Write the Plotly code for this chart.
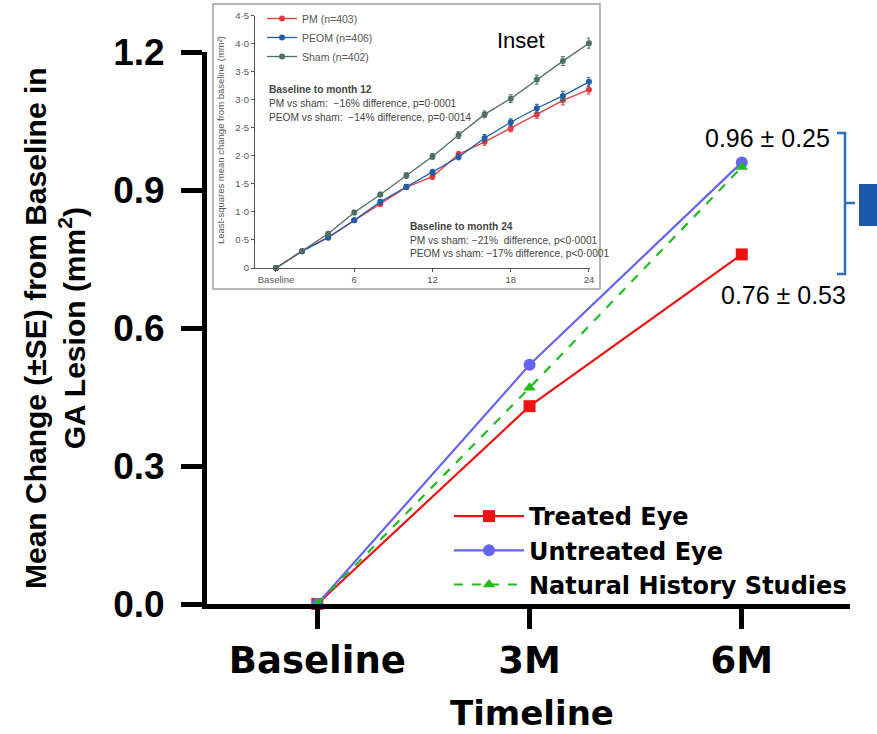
import plotly.graph_objects as go

# ---------------- data ----------------
timepoints = ["Baseline", "3M", "6M"]
treated_eye = [0.0, 0.43, 0.76]
untreated_eye = [0.0, 0.52, 0.96]
natural_history = [0.0, 0.47, 0.95]
main_yticks = [0.0, 0.3, 0.6, 0.9, 1.2]
main_yticktext = ["0.0", "0.3", "0.6", "0.9", "1.2"]

inset_months = [0, 2, 4, 6, 8, 10, 12, 14, 16, 18, 20, 22, 24]
inset_pm = [0, 0.30, 0.55, 0.85, 1.14, 1.44, 1.63, 2.03, 2.25, 2.49, 2.74, 2.99, 3.18]
inset_peom = [0, 0.30, 0.54, 0.85, 1.18, 1.45, 1.71, 1.98, 2.32, 2.60, 2.85, 3.07, 3.32]
inset_sham = [0, 0.30, 0.61, 0.99, 1.31, 1.65, 1.99, 2.37, 2.74, 3.02, 3.36, 3.69, 4.01]
inset_pm_se = [0, 0.02, 0.03, 0.03, 0.04, 0.04, 0.05, 0.05, 0.06, 0.06, 0.07, 0.08, 0.08]
inset_peom_se = [0, 0.02, 0.03, 0.03, 0.04, 0.04, 0.05, 0.05, 0.06, 0.06, 0.07, 0.08, 0.08]
inset_sham_se = [0, 0.02, 0.03, 0.04, 0.04, 0.05, 0.05, 0.06, 0.06, 0.07, 0.08, 0.08, 0.09]
inset_xticks = [0, 6, 12, 18, 24]
inset_xticktext = ["Baseline", "6", "12", "18", "24"]
inset_yticks = [0, 0.5, 1.0, 1.5, 2.0, 2.5, 3.0, 3.5, 4.0, 4.5]
inset_yticktext = ["0", "0·5", "1·0", "1·5", "2·0", "2·5", "3·0", "3·5", "4·0", "4·5"]

# ---------------- layout helpers ----------------
W, H = 877, 734
ML, MR, MT, MB = 207, 27, 4, 130
PW, PH = W - ML - MR, H - MT - MB


def pxx(x):
    return (x - ML) / PW


def pxy(y):
    return (H - MB - y) / PH


BIG = "DejaVu Sans"
ARIAL = "Liberation Sans, Arial, sans-serif"
GRAY = "#555555"

fig = go.Figure()

# main traces
fig.add_trace(go.Scatter(
    x=timepoints, y=treated_eye, name="Treated Eye", mode="lines+markers",
    line=dict(color="#ee1111", width=2.2),
    marker=dict(symbol="square", size=12, color="#ee1111"),
    cliponaxis=False, legend="legend"))
fig.add_trace(go.Scatter(
    x=timepoints, y=untreated_eye, name="Untreated Eye", mode="lines+markers",
    line=dict(color="#6464f0", width=2.2),
    marker=dict(symbol="circle", size=12, color="#6464f0"),
    cliponaxis=False, legend="legend"))
fig.add_trace(go.Scatter(
    x=timepoints, y=natural_history, name="Natural History Studies", mode="lines+markers",
    line=dict(color="#22bb22", width=2.2, dash="dash"),
    marker=dict(symbol="triangle-up", size=11, color="#22bb22"),
    cliponaxis=False, legend="legend"))

# inset traces
for name, ys, se, col in [
    ("PM (n=403)", inset_pm, inset_pm_se, "#e03c3c"),
    ("PEOM (n=406)", inset_peom, inset_peom_se, "#1f5fa8"),
    ("Sham (n=402)", inset_sham, inset_sham_se, "#4e6e68"),
]:
    fig.add_trace(go.Scatter(
        x=inset_months, y=ys, name=name, mode="lines+markers",
        xaxis="x2", yaxis="y2", legend="legend2",
        line=dict(color=col, width=1.3),
        marker=dict(size=6, color=col),
        error_y=dict(type="data", array=se, visible=True, color=col, thickness=1, width=2),
        cliponaxis=False))

fig.update_layout(
    width=W, height=H,
    margin=dict(l=ML, r=MR, t=MT, b=MB, autoexpand=False),
    paper_bgcolor="white", plot_bgcolor="white",
    xaxis=dict(
        domain=[0, 1], range=[-0.52, 2.51], type="category",
        categoryorder="array", categoryarray=timepoints,
        showline=True, linecolor="black", linewidth=5,
        ticks="outside", ticklen=20, tickwidth=5, tickcolor="black",
        tickfont=dict(family=BIG, size=37, color="black", weight="bold"),
        showgrid=False, zeroline=False, anchor="y", automargin=False,
    ),
    yaxis=dict(
        domain=[0, pxy(52)], range=[0, 1.2],
        tickvals=main_yticks, ticktext=main_yticktext,
        showline=True, linecolor="black", linewidth=5,
        ticks="outside", ticklen=21, tickwidth=5, tickcolor="black",
        ticklabelstandoff=9,
        tickfont=dict(family=ARIAL, size=37, color="black", weight="bold"),
        showgrid=False, zeroline=False, anchor="x", automargin=False,
    ),
    xaxis2=dict(
        domain=[pxx(255), pxx(590)], range=[-1.61, 24.08], anchor="y2",
        tickvals=inset_xticks, ticktext=inset_xticktext,
        showline=True, linecolor=GRAY, linewidth=1,
        ticks="outside", ticklen=3, tickcolor=GRAY,
        tickfont=dict(family=ARIAL, size=9.5, color=GRAY),
        showgrid=False, zeroline=False, automargin=False,
    ),
    yaxis2=dict(
        domain=[pxy(268), pxy(15.7)], range=[0, 4.5], anchor="x2",
        tickvals=inset_yticks, ticktext=inset_yticktext,
        showline=True, linecolor=GRAY, linewidth=1,
        ticks="outside", ticklen=3, tickcolor=GRAY,
        tickfont=dict(family=ARIAL, size=9.5, color=GRAY),
        showgrid=False, zeroline=False, automargin=False,
    ),
    legend=dict(
        x=pxx(449), y=pxy(494), xanchor="left", yanchor="top",
        bgcolor="rgba(0,0,0,0)", itemwidth=70, tracegroupgap=0,
        font=dict(family=BIG, size=24, color="black", weight="bold"),
    ),
    legend2=dict(
        x=pxx(262), y=pxy(4), xanchor="left", yanchor="top",
        bgcolor="rgba(0,0,0,0)", itemwidth=30,
        font=dict(family=ARIAL, size=10.5, color=GRAY),
    ),
    showlegend=True,
)

shapes = []
# inset border
shapes.append(dict(type="rect", xref="paper", yref="paper",
                   x0=pxx(213), x1=pxx(600), y0=pxy(289), y1=pxy(4),
                   line=dict(color="#a0a0a0", width=1.5), fillcolor="rgba(0,0,0,0)", layer="above"))
# bracket
BR = "#2e6fba"
shapes.append(dict(type="path", xref="paper", yref="paper",
                   path=f"M {pxx(837)},{pxy(133)} L {pxx(845)},{pxy(133)} L {pxx(845)},{pxy(274)} L {pxx(837)},{pxy(274)}",
                   line=dict(color=BR, width=2.5)))
shapes.append(dict(type="line", xref="paper", yref="paper",
                   x0=pxx(845), x1=pxx(855), y0=pxy(203), y1=pxy(203),
                   line=dict(color=BR, width=2.5)))
shapes.append(dict(type="rect", xref="paper", yref="paper",
                   x0=pxx(859), x1=pxx(880), y0=pxy(226), y1=pxy(184),
                   line=dict(width=0), fillcolor="#1b59a8"))
fig.update_layout(shapes=shapes)

ann = []
# main y title
ann.append(dict(text="Mean Change (±SE) from Baseline in<br>GA Lesion (mm<sup>2</sup>)",
                xref="paper", yref="paper", x=pxx(55), y=pxy(328), textangle=-90,
                showarrow=False, xanchor="center", yanchor="middle",
                font=dict(family=ARIAL, size=30, color="black", weight="bold")))
# main x title
ann.append(dict(text="Timeline", xref="paper", yref="paper", x=pxx(532), y=pxy(713),
                showarrow=False, xanchor="center", yanchor="middle",
                font=dict(family=BIG, size=34, color="black", weight="bold")))
# value labels
ann.append(dict(text="0.96 ± 0.25", xref="paper", yref="paper", x=pxx(832), y=pxy(138),
                showarrow=False, xanchor="right", yanchor="middle",
                font=dict(family=ARIAL, size=25, color="black")))
ann.append(dict(text="0.76 ± 0.53", xref="paper", yref="paper", x=pxx(848), y=pxy(295),
                showarrow=False, xanchor="right", yanchor="middle",
                font=dict(family=ARIAL, size=25, color="black")))
# inset texts
ann.append(dict(text="Inset", xref="paper", yref="paper", x=pxx(495), y=pxy(40),
                showarrow=False, xanchor="left", yanchor="middle",
                font=dict(family=ARIAL, size=22, color="black")))
ann.append(dict(text="Least-squares mean change from baseline (mm²)", xref="paper", yref="paper",
                x=pxx(220), y=pxy(140), textangle=-90, showarrow=False,
                xanchor="center", yanchor="middle",
                font=dict(family=ARIAL, size=9.5, color=GRAY)))
inset_lines = [
    (267, 90, "<b>Baseline to month 12</b>"),
    (267, 104, "PM vs sham:  −16% difference, p=0·0001"),
    (267, 118, "PEOM vs sham:  −14% difference, p=0·0014"),
    (408, 226, "<b>Baseline to month 24</b>"),
    (408, 240, "PM vs sham: −21%  difference, p<0·0001"),
    (408, 254, "PEOM vs sham: −17% difference, p<0·0001"),
]
for x, y, t in inset_lines:
    ann.append(dict(text=t, xref="paper", yref="paper", x=pxx(x), y=pxy(y),
                    showarrow=False, xanchor="left", yanchor="middle",
                    font=dict(family=ARIAL, size=10.2, color="#444444")))
fig.update_layout(annotations=ann)

fig.write_html("out.html", config={"displayModeBar": False},
               post_script="document.body.style.margin='0px';document.body.style.overflow='hidden';")
